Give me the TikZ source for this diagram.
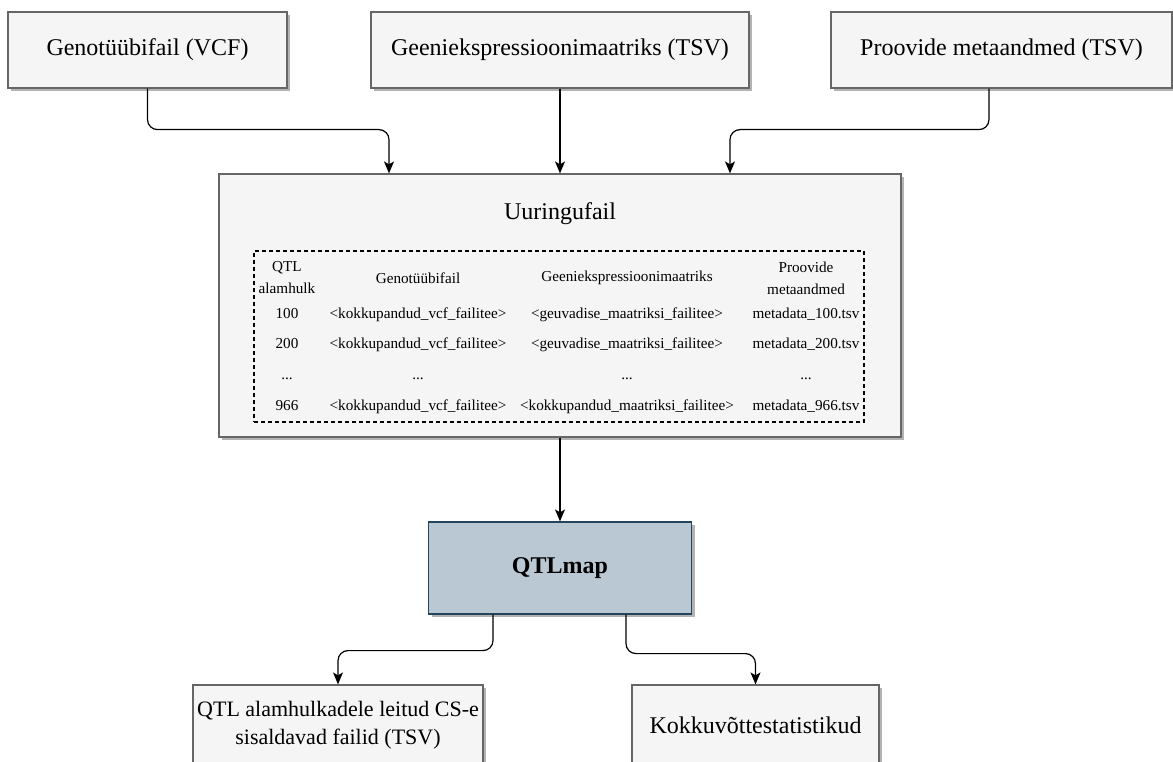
\documentclass[tikz,border=0pt]{standalone}
\usepackage{fontspec}
\setmainfont{Liberation Serif}
\usetikzlibrary{arrows.meta}
\usetikzlibrary{shadows}
\tikzset{>={Stealth[length=12pt,width=10pt,inset=3pt]}}
\definecolor{boxfill}{HTML}{F5F5F5}
\definecolor{boxline}{HTML}{666666}
\definecolor{mapfill}{HTML}{BAC8D3}
\definecolor{mapline}{HTML}{23445D}
\definecolor{shade}{HTML}{B3B3B3}

\begin{document}
\begin{tikzpicture}[x=1pt, y=-1pt,
    filebox/.style={draw=boxline, fill=boxfill, line width=1.2pt, inner sep=0pt, align=center,
      font=\fontsize{24}{27}\selectfont,
      drop shadow={shadow xshift=3pt, shadow yshift=-3pt, fill=shade, opacity=1}},
    cell/.style={font=\fontsize{15.2}{22}\selectfont, align=center, inner sep=0pt},
    conn/.style={->, line width=1.2pt, rounded corners=10pt}]
  \useasboundingbox (0,0) rectangle (1173,762);
  % input files
  \node[filebox, minimum width=279pt, minimum height=76pt] (geno) at (147.5,50) {Genotüübifail (VCF)};
  \node[filebox, minimum width=378pt, minimum height=76pt] (expr) at (560,50) {Geeniekspressioonimaatriks (TSV)};
  \node[filebox, minimum width=341pt, minimum height=76pt] (meta) at (1001.5,50) {Proovide metaandmed (TSV)};
  % study file
  \node[filebox, minimum width=682pt, minimum height=263pt] (uur) at (560,305.5) {};
  \node[font=\fontsize{24}{27}\selectfont] (title) at (560,214) {Uuringufail};
  \node[draw, dash pattern=on 4pt off 3pt, line width=1.1pt, minimum width=610pt, minimum height=171pt, inner sep=0pt] (tbl) at (559,336.5) {};
  \node[cell] (hqtl) at (287,278) {QTL\\alamhulk};
  \node[cell] (hgeno) at (418,278) {Genotüübifail};
  \node[cell] (hexpr) at (627,278) {Geeniekspressioonimaatriks};
  \node[cell] (hmeta) at (806,278) {Proovide\\metaandmed};
  \foreach \y/\id/\mat in {318/100/geuvadise, 348/200/geuvadise, 410/966/kokkupandud} {
    \node[cell, anchor=base] (q\id) at (287,\y) {\id};
    \node[cell, anchor=base] (g\id) at (418,\y) {<kokkupandud\_vcf\_failitee>};
    \node[cell, anchor=base] (e\id) at (627,\y) {<\mat\_maatriksi\_failitee>};
    \node[cell, anchor=base] (m\id) at (806,\y) {metadata\_\id.tsv};
  }
  \foreach \x/\c in {287/q, 418/g, 627/e, 806/m}
    \node[cell, anchor=base] (\c dots) at (\x,379) {...};
  % pipeline
  \node[filebox, fill=mapfill, draw=mapline, minimum width=263pt, minimum height=92pt,
    font=\fontsize{24}{27}\selectfont\bfseries] (qtl) at (560,568) {QTLmap};
  % outputs
  \node[filebox, minimum width=290pt, minimum height=80pt, font=\fontsize{22}{28}\selectfont] (res) at (338,725)
    {QTL alamhulkadele leitud CS-e\\sisaldavad failid (TSV)};
  \node[filebox, minimum width=247pt, minimum height=80pt] (stat) at (755.5,725) {Kokkuvõttestatistikud};
  % connectors
  \draw[conn] (geno.south) -- ++(0,41) -| ([xshift=-171pt]uur.north);
  \draw[conn] (expr.south) -- (uur.north);
  \draw[conn] ([xshift=-12.5pt]meta.south) -- ++(0,41) -| ([xshift=170pt]uur.north);
  \draw[conn] (uur.south) -- (qtl.north);
  \draw[conn] ([xshift=-67pt]qtl.south) -- ++(0,36) -| (res.north);
  \draw[conn] ([xshift=66pt]qtl.south) -- ++(0,39) -| (stat.north);
\end{tikzpicture}
\end{document}
